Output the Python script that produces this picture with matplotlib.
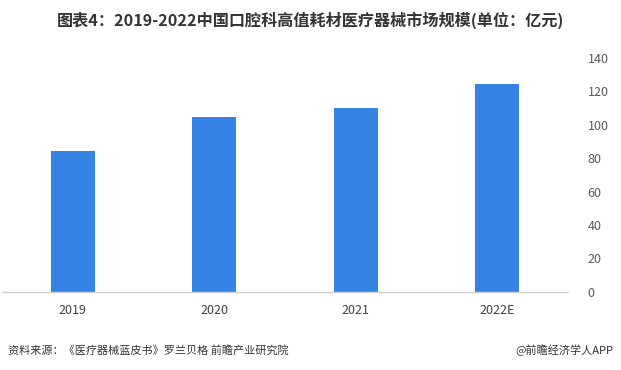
import matplotlib
matplotlib.use('Agg')
import matplotlib.pyplot as plt

plt.rcParams['font.family'] = ['Noto Sans CJK SC', 'DejaVu Sans']

years = ['2019', '2020', '2021', '2022E']
values = [84.2, 104.6, 110.0, 124.3]
yticks = [0, 20, 40, 60, 80, 100, 120, 140]

fig = plt.figure(figsize=(6.21, 3.70), dpi=100)
ax = fig.add_axes([2 / 621, 78.3 / 370, 566 / 621, 233.7 / 370])

x = range(len(years))
ax.bar(x, values, width=0.31, color='#3583E4', zorder=2)

ax.set_xlim(-0.5, len(years) - 0.5)
ax.set_ylim(0, 140)
ax.set_xticks(list(x))
ax.set_xticklabels(years, fontsize=9, color='#404040')
ax.set_yticks(yticks)
ax.yaxis.tick_right()
ax.tick_params(axis='y', labelsize=9, labelcolor='#595959', length=0, pad=14)
ax.tick_params(axis='x', length=0, pad=9)

for s in ['top', 'left', 'right']:
    ax.spines[s].set_visible(False)
ax.spines['bottom'].set_color('#d0d0d0')
ax.spines['bottom'].set_linewidth(1.0)

fig.text(0.5, 1 - 20 / 370, '图表4：2019-2022中国口腔科高值耗材医疗器械市场规模(单位：亿元)',
         ha='center', va='center', fontsize=11.6, fontweight='bold', color='#333333')
fig.text(8 / 621, 1 - 350 / 370, '资料来源：《医疗器械蓝皮书》罗兰贝格 前瞻产业研究院',
         ha='left', va='center', fontsize=8, color='#333333')
fig.text(613 / 621, 1 - 350 / 370, '@前瞻经济学人APP',
         ha='right', va='center', fontsize=8, color='#333333')

fig.savefig('out.png', dpi=100, facecolor='white')
